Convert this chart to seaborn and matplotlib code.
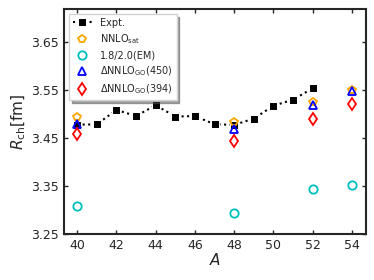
import numpy as np
import pandas as pd
import matplotlib
matplotlib.use("Agg")
import matplotlib.pyplot as plt
import seaborn as sns

# Charge radii of Ca isotopes
expt_A = [40, 41, 42, 43, 44, 45, 46, 47, 48, 49, 50, 51, 52]
expt_R = [3.4776, 3.4780, 3.5081, 3.4954, 3.5179, 3.4944, 3.4953,
          3.4783, 3.4771, 3.4901, 3.5168, 3.5296, 3.5531]

theo_A = [40, 48, 52, 54]
nnlosat_R = [3.493, 3.483, 3.525, 3.549]
em_R = [3.308, 3.293, 3.344, 3.351]
go450_R = [3.479, 3.468, 3.518, 3.547]
go394_R = [3.459, 3.443, 3.490, 3.521]

sns.set_style("ticks")
plt.rcParams["font.family"] = ["DejaVu Sans"]
plt.rcParams["mathtext.fontset"] = "dejavusans"

fig = plt.figure(figsize=(3.74, 2.8), dpi=100)
ax = fig.add_axes([0.171, 0.164, 0.808, 0.804])

sns.lineplot(x=expt_A, y=expt_R, ax=ax, color="black", linestyle=":",
             linewidth=1.5, marker="s", markersize=6, label="Expt.")

series = [
    (nnlosat_R, "p", "orange", r"NNLO$_{\rm sat}$"),
    (em_R, "o", "c", "1.8/2.0(EM)"),
    (go450_R, "^", "blue", r"$\Delta$NNLO$_{\rm GO}$(450)"),
    (go394_R, "d", "red", r"$\Delta$NNLO$_{\rm GO}$(394)"),
]
for vals, mk, col, lab in series:
    sns.lineplot(x=theo_A, y=vals, ax=ax, linestyle="", marker=mk,
                 markersize=6, mfc="none", mec=col, mew=1.3,
                 color=col, label=lab)

ax.set_xlim(39.33, 54.72)
ax.set_ylim(3.25, 3.718)
ax.set_xticks(np.arange(40, 55, 2))
ax.set_yticks([3.25, 3.35, 3.45, 3.55, 3.65])
ax.tick_params(direction="in", top=True, right=True, labelsize=9,
               length=3, width=1)
for s in ax.spines.values():
    s.set_linewidth(1.5)

ax.set_xlabel(r"$A$", fontsize=11, labelpad=0)
ax.set_ylabel(r"$R_{\rm ch}[\rm fm]$", fontsize=11, labelpad=2)

ax.legend(loc="upper left", fontsize=7, frameon=True, shadow=True,
          fancybox=False, handletextpad=0.8, borderpad=0.4,
          labelspacing=0.45, edgecolor="lightgray")

plt.savefig("out.png", dpi=100)
